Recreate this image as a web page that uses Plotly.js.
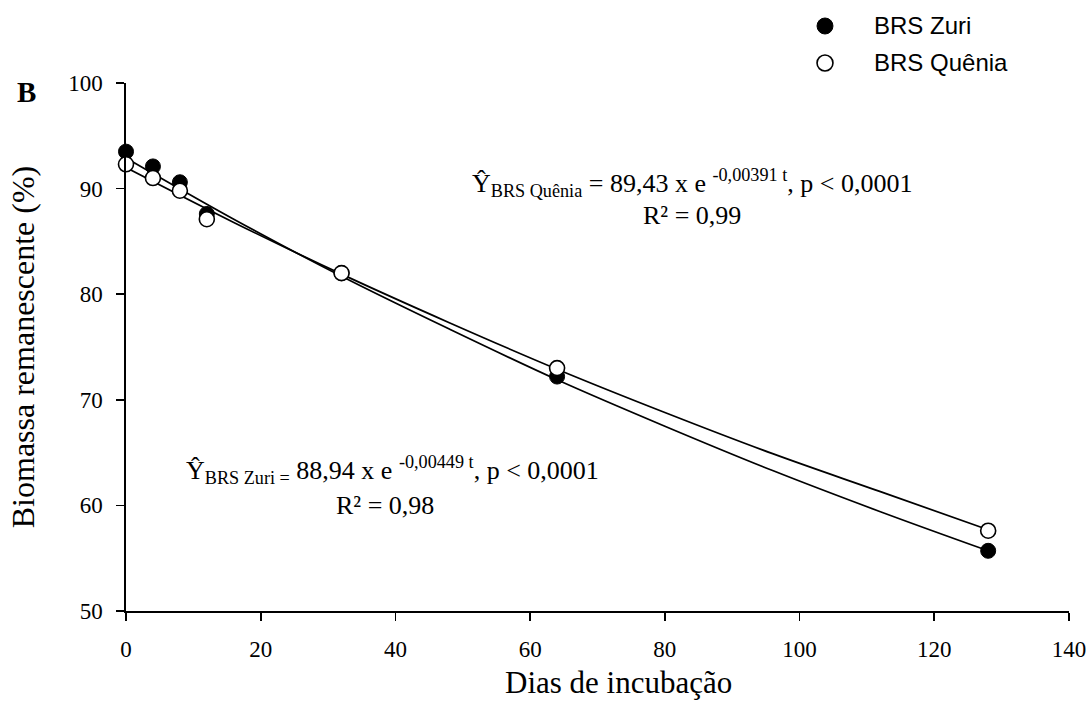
<!DOCTYPE html>
<html>
<head>
<meta charset="utf-8">
<script src="https://cdn.plot.ly/plotly-3.0.1.min.js"></script>
<style>html,body{margin:0;padding:0;background:#fff;}#chart{width:1091px;height:724px;}</style>
</head>
<body>
<div id="chart"></div>
<script>
// Observed data (days of incubation, remaining biomass %)
const days = [0, 4, 8, 12, 32, 64, 128];
const zuri = [93.5, 92.1, 90.6, 87.6, 82.0, 72.2, 55.7];
const quenia = [92.3, 91.0, 89.8, 87.1, 82.0, 73.0, 57.6];

// Fitted curves
const fitDays = [0, 16, 32, 48, 64, 80, 96, 112, 128];
const zuriFit = [92.9, 87.1, 81.7, 76.7, 71.9, 67.5, 63.3, 59.4, 55.7];
const queniaFit = [92.0, 86.8, 81.9, 77.3, 72.9, 68.8, 64.9, 61.3, 57.7];

const seriesNames = ['BRS Zuri', 'BRS Quênia'];
const tickX = [0, 20, 40, 60, 80, 100, 120, 140];
const tickY = [50, 60, 70, 80, 90, 100];
const xTitle = 'Dias de incubação';
const yTitle = 'Biomassa remanescente (%)';

const serif = 'Liberation Serif, Times New Roman, serif';
const sans = 'Liberation Sans, Arial, sans-serif';

const traces = [
  {x: fitDays, y: zuriFit, mode: 'lines', line: {color: '#000', width: 1.7, shape: 'spline'}, showlegend: false, hoverinfo: 'skip', cliponaxis: false},
  {x: fitDays, y: queniaFit, mode: 'lines', line: {color: '#000', width: 1.7, shape: 'spline'}, showlegend: false, hoverinfo: 'skip', cliponaxis: false},
  {x: days, y: zuri, mode: 'markers', name: seriesNames[0], showlegend: false,
   marker: {symbol: 'circle', size: 15, color: '#000', line: {color: '#000', width: 1}}, cliponaxis: false},
  {x: days, y: quenia, mode: 'markers', name: seriesNames[1], showlegend: false,
   marker: {symbol: 'circle', size: 15, color: '#fff', line: {color: '#000', width: 1.6}}, cliponaxis: false}
];

const axisCommon = {
  showline: true, linecolor: '#000', linewidth: 1.6,
  ticks: 'outside', ticklen: 8, tickwidth: 1.6, tickcolor: '#000',
  showgrid: false, zeroline: false, mirror: false, automargin: false,
  ticklabelstandoff: 9,
  tickfont: {family: serif, size: 23, color: '#000'}
};

const layout = {
  width: 1091, height: 724,
  margin: {l: 126, r: 22, t: 83, b: 113},
  paper_bgcolor: '#fff', plot_bgcolor: '#fff',
  font: {family: serif, color: '#000'},
  showlegend: false,
  xaxis: Object.assign({}, axisCommon, {range: [0, 140], tickvals: tickX}),
  yaxis: Object.assign({}, axisCommon, {
    range: [50, 100], tickvals: tickY,
    title: {text: yTitle, font: {family: serif, size: 32, color: '#000'}, standoff: 24}
  }),
  shapes: [
    {type: 'circle', xref: 'paper', yref: 'paper', x0: 0.7328, x1: 0.7497, y0: 1.0928, y1: 1.1231,
     fillcolor: '#000', line: {color: '#000', width: 1}},
    {type: 'circle', xref: 'paper', yref: 'paper', x0: 0.7328, x1: 0.7497, y0: 1.0227, y1: 1.0530,
     fillcolor: '#fff', line: {color: '#000', width: 1.6}}
  ],
  annotations: [
    {xref: 'paper', yref: 'paper', x: (618 - 126) / 943, y: (611 - 683) / 528, xanchor: 'center', yanchor: 'middle', showarrow: false,
     text: xTitle, font: {family: serif, size: 31, color: '#000'}},
    {xref: 'paper', yref: 'paper', x: 0.7911, y: 1.108, xanchor: 'left', yanchor: 'middle', showarrow: false,
     text: seriesNames[0], font: {family: sans, size: 24, color: '#000'}},
    {xref: 'paper', yref: 'paper', x: 0.7911, y: 1.0379, xanchor: 'left', yanchor: 'middle', showarrow: false,
     text: seriesNames[1], font: {family: sans, size: 24, color: '#000'}},
    {xref: 'paper', yref: 'paper', x: -0.105, y: 0.983, xanchor: 'center', yanchor: 'middle',
     text: '<b>B</b>', showarrow: false, font: {family: serif, size: 29, color: '#000'}},
    {xref: 'paper', yref: 'paper', x: (692 - 126) / 943, y: (611 - 183) / 528, xanchor: 'center', yanchor: 'middle', showarrow: false,
     text: 'Ŷ<sub>BRS Quênia</sub> = 89,43 x e <sup>-0,00391 t</sup>, p &lt; 0,0001',
     font: {family: serif, size: 26, color: '#000'}},
    {xref: 'paper', yref: 'paper', x: (692 - 126) / 943, y: (611 - 215) / 528, xanchor: 'center', yanchor: 'middle', showarrow: false,
     text: 'R² = 0,99', font: {family: serif, size: 26, color: '#000'}},
    {xref: 'paper', yref: 'paper', x: (392 - 126) / 943, y: (611 - 470) / 528, xanchor: 'center', yanchor: 'middle', showarrow: false,
     text: 'Ŷ<sub>BRS Zuri =</sub> 88,94 x e <sup>-0,00449 t</sup>, p &lt; 0,0001',
     font: {family: serif, size: 26, color: '#000'}},
    {xref: 'paper', yref: 'paper', x: (385 - 126) / 943, y: (611 - 505) / 528, xanchor: 'center', yanchor: 'middle', showarrow: false,
     text: 'R² = 0,98', font: {family: serif, size: 26, color: '#000'}}
  ]
};

Plotly.newPlot('chart', traces, layout, {displayModeBar: false, staticPlot: true});
</script>
</body>
</html>
